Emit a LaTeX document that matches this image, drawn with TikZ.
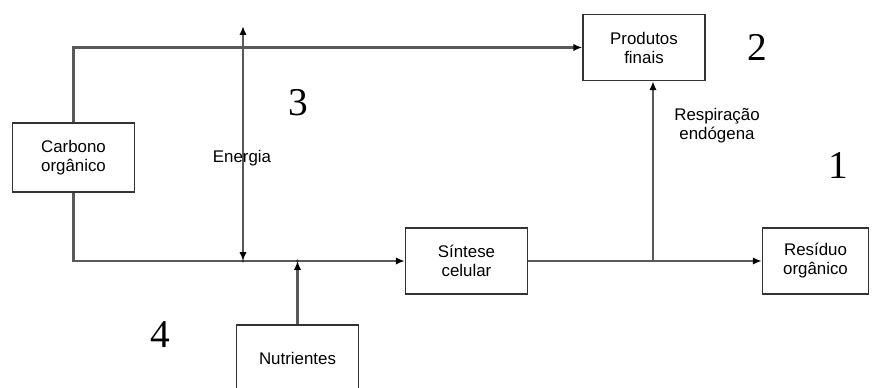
\documentclass[tikz,border=0pt]{standalone}
\usepackage{fontspec}
\setmainfont{Liberation Serif}
\newfontfamily\caixafont{Liberation Sans}
\usetikzlibrary{arrows.meta}

\begin{document}
\begin{tikzpicture}[x=0.025cm, y=-0.025cm,
    >={Latex[length=2.2mm,width=1.8mm,color=black]},
    linha/.style={draw=black!65, line width=1.5pt},
    caixa/.style={draw=black!80, line width=1pt, minimum width=3.05cm,
      minimum height=1.65cm, align=center, inner sep=2pt,
      font=\caixafont\fontsize{12}{13.5}\selectfont},
    rotulo/.style={align=center, font=\caixafont\fontsize{12}{13.5}\selectfont},
    numero/.style={font=\fontsize{28}{30}\selectfont}]
     \useasboundingbox (0,0) rectangle (876,388);
     \clip (0,0) rectangle (876,388);

     \node[caixa, minimum height=1.72cm] (carbono) at (73.5,157.5) {Carbono\\orgânico};
     \node[caixa] (produtos) at (644,47.5) {Produtos\\finais};
     \node[caixa] (sintese) at (466.5,261) {Síntese\\celular};
     \node[caixa, minimum width=2.65cm] (residuo) at (815.5,261) {Resíduo\\orgânico};
     \node[caixa] (nutrientes) at (297.5,358) {Nutrientes};

     \coordinate (etopo) at (243,26);
     \coordinate (ebase) at (etopo |- sintese.west);
     \coordinate (nbase) at (nutrientes.north |- sintese.west);
     \coordinate (ramo) at (653,261);

     \draw[linha,->] (carbono.north) |- (produtos.west);
     \draw[linha,->] (carbono.south) |- (sintese.west);
     \draw[linha,<->] (etopo) -- (ebase);
     \draw[linha,->] (nutrientes.north) -- (nbase);
     \draw[linha,->] (sintese.east) -- (residuo.west);
     \draw[linha,->] (ramo) -- (ramo |- produtos.south);
     \fill[black!80] (ebase) circle (1.6) (nbase) circle (1.6);

     \node[rotulo] (energia) at (242,158) {Energia};
     \node[rotulo] (respiracao) at (717,126) {Respiração\\endógena};

     \node[numero] (n2) at (757,47) {2};
     \node[numero] (n3) at (298,103) {3};
     \node[numero] (n1) at (838,166) {1};
     \node[numero] (n4) at (160,335) {4};
   \end{tikzpicture}
\end{document}
